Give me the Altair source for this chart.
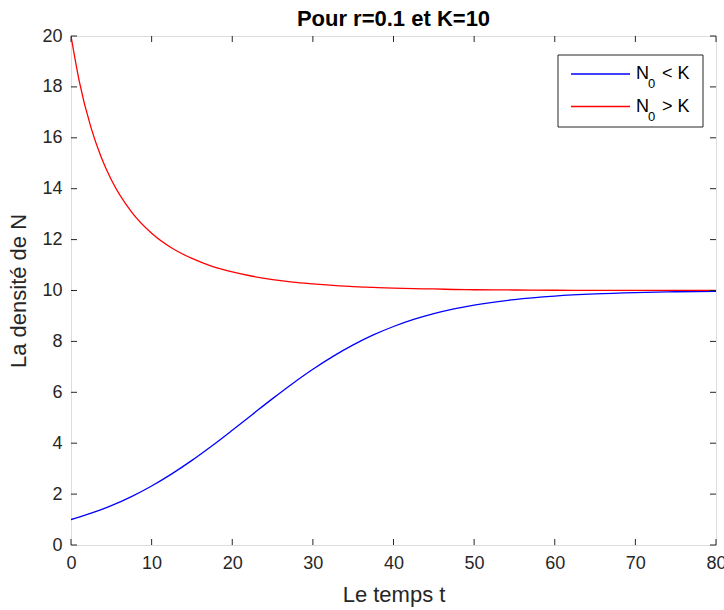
import altair as alt
import pandas as pd

# time values
t = [0, 1, 2.5, 3.75, 5, 7.5, 10, 12.5, 15, 17.5, 20, 22.5, 25, 27.5, 30, 32.5, 35,
     37.5, 40, 42.5, 45, 47.5, 50, 55, 60, 65, 70, 75, 80]
# N0 < K (blue)
n_low = [1.0, 1.094, 1.249, 1.389, 1.548, 1.904, 2.320, 2.795, 3.324, 3.900, 4.509,
         5.132, 5.751, 6.348, 6.906, 7.413, 7.863, 8.253, 8.585, 8.862, 9.091, 9.278,
         9.428, 9.645, 9.782, 9.867, 9.919, 9.950, 9.970]
# N0 > K (red)
n_high = [20.0, 18.26, 16.38, 15.24, 14.35, 13.09, 12.25, 11.67, 11.26, 10.95, 10.73,
          10.56, 10.43, 10.33, 10.26, 10.20, 10.15, 10.12, 10.09, 10.07, 10.06, 10.04,
          10.03, 10.02, 10.01, 10.008, 10.005, 10.003, 10.002]

series = ["N0 < K", "N0 > K"]
colors = ["#0000FF", "#FF0000"]
x_ticks = [0, 10, 20, 30, 40, 50, 60, 70, 80]
y_ticks = [0, 2, 4, 6, 8, 10, 12, 14, 16, 18, 20]

W, H = 645, 509
FONT = "Liberation Sans"
GRAY = "#262626"

df = pd.DataFrame({
    "t": t * 2,
    "N": n_low + n_high,
    "s": [series[0]] * len(t) + [series[1]] * len(t),
})

xs = alt.Scale(domain=[0, 80], nice=False, zero=False)
ys = alt.Scale(domain=[0, 20], nice=False, zero=False)

common = dict(domain=False, ticks=False, grid=False, labelPadding=9,
              labelFlush=False, labelOverlap=False, labelBound=False,
              labelFontSize=18, titleFontSize=22, labelColor=GRAY,
              titleColor=GRAY, labelFont=FONT, titleFont=FONT,
              titleFontWeight="normal")

lines = alt.Chart(df).mark_line(strokeWidth=1.3, clip=True, interpolate="monotone").encode(
    x=alt.X("t:Q", scale=xs,
            axis=alt.Axis(values=x_ticks, title="Le temps t", titlePadding=12, **common)),
    y=alt.Y("N:Q", scale=ys,
            axis=alt.Axis(values=y_ticks, title="La densité de N", titlePadding=11, **common)),
    color=alt.Color("s:N", scale=alt.Scale(domain=series, range=colors), legend=None),
    detail="s:N",
)

xt = pd.DataFrame({"v": x_ticks})
yt = pd.DataFrame({"v": y_ticks})
TL = 6
tick_layers = [
    alt.Chart(xt).mark_rule(color=GRAY, strokeWidth=1).encode(
        x=alt.X("v:Q", scale=xs), y=alt.value(H), y2=alt.value(H - TL)),
    alt.Chart(xt).mark_rule(color=GRAY, strokeWidth=1).encode(
        x=alt.X("v:Q", scale=xs), y=alt.value(0), y2=alt.value(TL)),
    alt.Chart(yt).mark_rule(color=GRAY, strokeWidth=1).encode(
        y=alt.Y("v:Q", scale=ys), x=alt.value(0), x2=alt.value(TL)),
    alt.Chart(yt).mark_rule(color=GRAY, strokeWidth=1).encode(
        y=alt.Y("v:Q", scale=ys), x=alt.value(W), x2=alt.value(W - TL)),
]

# legend box
lx0, ly0, lx1, ly1 = 487, 19, 632, 91
leg_box = alt.Chart(pd.DataFrame({"a": [0]})).mark_rect(
    fill="white", stroke=GRAY, strokeWidth=1).encode(
    x=alt.value(lx0), x2=alt.value(lx1), y=alt.value(ly0), y2=alt.value(ly1))

leg_items = []
for i, (col, sym) in enumerate(zip(colors, ["<", ">"])):
    yy = 38 + i * 32.5
    leg_items.append(alt.Chart(pd.DataFrame({"a": [0]})).mark_rule(
        color=col, strokeWidth=1.3).encode(
        x=alt.value(500), x2=alt.value(559), y=alt.value(yy)))
    leg_items.append(alt.Chart(pd.DataFrame({"a": [0]})).mark_text(
        text="N", font=FONT, fontSize=18, color="black", align="left",
        baseline="middle").encode(x=alt.value(565), y=alt.value(yy)))
    leg_items.append(alt.Chart(pd.DataFrame({"a": [0]})).mark_text(
        text="0", font=FONT, fontSize=13, color="black", align="left",
        baseline="middle").encode(x=alt.value(577), y=alt.value(yy + 10)))
    leg_items.append(alt.Chart(pd.DataFrame({"a": [0]})).mark_text(
        text=f"{sym} K", font=FONT, fontSize=18, color="black", align="left",
        baseline="middle").encode(x=alt.value(591), y=alt.value(yy)))

chart = alt.layer(lines, *tick_layers, leg_box, *leg_items).properties(
    width=W, height=H,
    title=alt.Title("Pour r=0.1 et K=10", font=FONT, fontSize=22, fontWeight="bold",
                    color="black", offset=7, dy=11),
    autosize=alt.AutoSizeParams(type="none"),
    padding={"left": 71, "top": 36, "right": 8, "bottom": 65},
).configure_view(stroke=GRAY, strokeWidth=1).configure(background="white")

chart.save("out.html", embed_options={"renderer": "svg", "actions": False})
